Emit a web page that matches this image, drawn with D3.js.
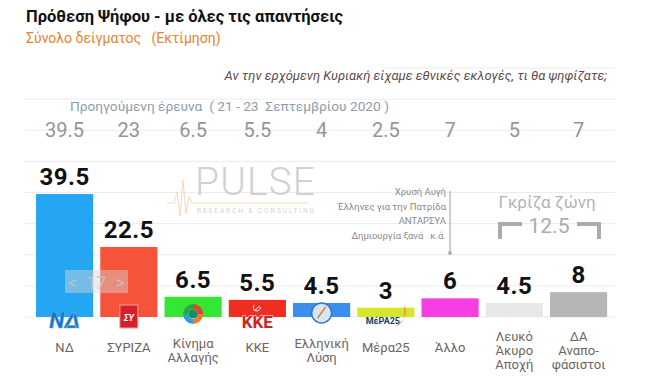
<!DOCTYPE html>
<html>
<head>
<meta charset="utf-8">
<script src="https://cdn.jsdelivr.net/npm/d3@7"></script>
<style>
  body { margin: 0; background: #fff; }
  svg { display: block; font-family: Roboto, "Noto Sans", sans-serif; }
</style>
</head>
<body>
<svg width="650" height="377"></svg>
<script>
// data
var categories = ["ΝΔ", "ΣΥΡΙΖΑ", "Κίνημα Αλλαγής", "ΚΚΕ", "Ελληνική Λύση", "Μέρα25", "Άλλο", "Λευκό Άκυρο Αποχή", "ΔΑ Αναποφάσιστοι"];
var labelLines = [["ΝΔ"], ["ΣΥΡΙΖΑ"], ["Κίνημα", "Αλλαγής"], ["ΚΚΕ"], ["Ελληνική", "Λύση"], ["Μέρα25"], ["Άλλο"], ["Λευκό", "Άκυρο", "Αποχή"], ["ΔΑ", "Αναπο-", "φάσιστοι"]];
var current = [39.5, 22.5, 6.5, 5.5, 4.5, 3, 6, 4.5, 8];
var previous = ["39.5", "23", "6.5", "5.5", "4", "2.5", "7", "5", "7"];
var colors = ["#25a6f2", "#f5533a", "#35e635", "#ef2d22", "#3b8ef0", "#d6e62c", "#f53fe2", "#e8e8e8", "#b6b6b6"];
var others = ["Χρυσή Αυγή", "Έλληνες για την Πατρίδα", "ΑΝΤΑΡΣΥΑ", "Δημιουργία ξανά   κ.ά."];
var greyZone = "12.5";
var gridTicks = [0, 10, 20, 30, 40, 50, 60, 70, 80];

var svg = d3.select("svg");

var x = d3.scaleBand()
    .domain(categories)
    .range([32.5, 610.7])
    .paddingInner(0.11)
    .paddingOuter(0.055);

var y = d3.scaleLinear()
    .domain([0, 80])
    .range([317, 68]);

// gridlines
svg.append("g").selectAll("line")
  .data(gridTicks)
  .enter().append("line")
    .attr("x1", function(d) { return d == 80 ? 385 : 25; })
    .attr("x2", 615)
    .attr("y1", function(d) { return y(d); })
    .attr("y2", function(d) { return y(d); })
    .style("stroke", "#ececec")
    .style("stroke-width", 1);

// header
svg.append("text")
    .attr("x", 26).attr("y", 22)
    .style("font-size", "16.5px").style("font-weight", "bold").style("fill", "#111")
    .text("Πρόθεση Ψήφου - με όλες τις απαντήσεις");

svg.append("text")
    .attr("x", 26).attr("y", 43)
    .style("font-size", "14px").style("fill", "#e8832c")
    .attr("xml:space", "preserve")
    .text("Σύνολο δείγματος   (Εκτίμηση)");

svg.append("text")
    .attr("x", 607).attr("y", 80)
    .attr("text-anchor", "end")
    .style("font-size", "13px").style("font-style", "italic").style("fill", "#5d4c4c")
    .text("Αν την ερχόμενη Κυριακή είχαμε εθνικές εκλογές, τι θα ψηφίζατε;");

svg.append("text")
    .attr("x", 70).attr("y", 111)
    .style("font-size", "13.7px").style("fill", "#8d9dac")
    .attr("xml:space", "preserve")
    .text("Προηγούμενη έρευνα  ( 21 - 23  Σεπτεμβρίου 2020 )");

svg.append("g").selectAll("text")
  .data(previous)
  .enter().append("text")
    .attr("x", function(d, i) { return x(categories[i]) + x.bandwidth() / 2; })
    .attr("y", 137)
    .attr("text-anchor", "middle")
    .style("font-size", "20px").style("fill", "#8f969d")
    .text(function(d) { return d; });

// watermark
var wm = svg.append("g").style("opacity", 0.9);
wm.append("path")
    .attr("d", "M167,203 L174,203 L177,192 L180,216 L183,180 L186,214 L189,196 L192,203 L308,203")
    .style("fill", "none").style("stroke", "#f6d6b0").style("stroke-width", 1);
wm.append("text")
    .attr("x", 195).attr("y", 195)
    .attr("textLength", 120).attr("lengthAdjust", "spacing")
    .style("font-size", "39px").style("font-weight", 300).style("fill", "#cdcdcd")
    .text("PULSE");
wm.append("text")
    .attr("x", 197).attr("y", 213)
    .attr("textLength", 117).attr("lengthAdjust", "spacing")
    .style("font-size", "6.5px").style("fill", "#cfcfcf")
    .text("RESEARCH & CONSULTING");

// bars
svg.append("g").selectAll("rect")
  .data(current)
  .enter().append("rect")
    .attr("x", function(d, i) { return x(categories[i]); })
    .attr("y", function(d) { return y(d); })
    .attr("width", x.bandwidth())
    .attr("height", function(d) { return y(0) - y(d); })
    .style("fill", function(d, i) { return colors[i]; });

svg.append("g").selectAll("text")
  .data(current)
  .enter().append("text")
    .attr("x", function(d, i) { return x(categories[i]) + x.bandwidth() / 2; })
    .attr("y", function(d) { return y(d) - 9; })
    .attr("text-anchor", "middle")
    .style("font-size", "24px").style("font-weight", "bold").style("fill", "#111")
    .style("letter-spacing", "0.5px")
    .text(function(d) { return d; });

// party logos (rough)
function cx(i) { return x(categories[i]) + x.bandwidth() / 2; }
var logos = svg.append("g");

logos.append("text")
    .attr("x", cx(0)).attr("y", 328)
    .attr("text-anchor", "middle")
    .style("font-size", "22px").style("font-weight", "bold").style("font-style", "italic")
    .style("fill", "#1f6cc0").style("stroke", "#5fb8f0").style("stroke-width", 0.6)
    .text("ΝΔ");

logos.append("rect")
    .attr("x", cx(1) - 9).attr("y", 305).attr("width", 18).attr("height", 23)
    .style("fill", "#d3202a").style("stroke", "#f7a0a0").style("stroke-width", 1);
logos.append("text")
    .attr("x", cx(1)).attr("y", 321)
    .attr("text-anchor", "middle")
    .style("font-size", "9px").style("font-weight", "bold").style("font-style", "italic").style("fill", "#fff")
    .text("ΣΥ");

var pie = d3.pie().sort(null)([1, 1, 1, 1]);
var arcK = d3.arc().innerRadius(5).outerRadius(10);
logos.append("g")
    .attr("transform", "translate(" + cx(2) + ",314)")
  .selectAll("path")
  .data(pie)
  .enter().append("path")
    .attr("d", arcK)
    .style("fill", function(d, i) { return ["#e8412b", "#f07a2c", "#2e9bd6", "#23a84a"][i]; });
logos.append("circle")
    .attr("cx", cx(2)).attr("cy", 314).attr("r", 4.5)
    .style("fill", "#1c8a6a");

logos.append("text")
    .attr("x", cx(3)).attr("y", 328)
    .attr("text-anchor", "middle")
    .style("font-size", "17px").style("font-weight", "bold")
    .style("fill", "#d8201b").style("stroke", "#fff").style("stroke-width", 0.8)
    .style("paint-order", "stroke")
    .text("KKE");
// hammer & sickle, drawn as a tiny mark
logos.append("path")
    .attr("d", "M" + (cx(3) - 3) + ",305 A3.5,3.5 0 1 0 " + (cx(3) + 3) + ",307 M" + (cx(3) - 3) + ",311 L" + (cx(3) + 2) + ",306")
    .style("fill", "none").style("stroke", "#fff").style("stroke-width", 1);

logos.append("circle")
    .attr("cx", cx(4)).attr("cy", 313).attr("r", 10)
    .style("fill", "#d5e6f2").style("stroke", "#3a78b5").style("stroke-width", 1.5);
logos.append("line")
    .attr("x1", cx(4) - 4).attr("y1", 318).attr("x2", cx(4) + 4).attr("y2", 307)
    .style("stroke", "#e08030").style("stroke-width", 1.5);

logos.append("text")
    .attr("x", cx(5) - 3).attr("y", 324)
    .attr("text-anchor", "middle")
    .style("font-size", "9px").style("font-weight", "bold").style("fill", "#243a6a")
    .text("ΜέΡΑ25");
logos.append("path")
    .attr("d", "M" + (cx(5) + 9) + ",327 Q" + (cx(5) + 21) + ",322 " + (cx(5) + 18) + ",305 Q" + (cx(5) + 24) + ",316 " + (cx(5) + 9) + ",327 Z")
    .style("fill", "#f07a2a");

// category labels
var lab = svg.append("g").selectAll("text")
  .data(labelLines)
  .enter().append("text")
    .attr("text-anchor", "middle")
    .style("font-size", "13px").style("fill", "#6e6464");
lab.each(function(lines, i) {
  var t0 = lines.length == 1 ? 352 : (lines.length == 2 ? 348 : 341);
  d3.select(this).selectAll("tspan")
    .data(lines)
    .enter().append("tspan")
      .attr("x", cx(i))
      .attr("y", function(d, j) { return t0 + j * 14; })
      .text(function(d) { return d; });
});

// others annotation
svg.append("g").selectAll("text")
  .data(others)
  .enter().append("text")
    .attr("x", 446)
    .attr("y", function(d, i) { return 195 + i * 14.7; })
    .attr("text-anchor", "end")
    .attr("xml:space", "preserve")
    .style("font-size", "9.5px").style("fill", "#8a8a8a")
    .text(function(d) { return d; });
svg.append("line")
    .attr("x1", 450).attr("x2", 450).attr("y1", 191).attr("y2", 253)
    .style("stroke", "#b0b0b0").style("stroke-width", 1.2);
svg.append("circle")
    .attr("cx", 450).attr("cy", 253).attr("r", 2)
    .style("fill", "#b0b0b0");

// grey zone
svg.append("text")
    .attr("x", 547).attr("y", 208)
    .attr("text-anchor", "middle")
    .style("font-size", "17px").style("fill", "#b3b3b3")
    .text("Γκρίζα ζώνη");
svg.append("text")
    .attr("x", 549).attr("y", 233)
    .attr("text-anchor", "middle")
    .style("font-size", "21px").style("fill", "#ababab")
    .text(greyZone);
svg.append("path")
    .attr("d", "M500,239 L500,224 L522,224 M577,224 L599,224 L599,239")
    .style("fill", "none").style("stroke", "#ababab").style("stroke-width", 4);

// page overlay
svg.append("rect")
    .attr("x", 65).attr("y", 270).attr("width", 63).attr("height", 23)
    .style("fill", "#d8d8d8").style("opacity", 0.45);
svg.append("text")
    .attr("x", 96.5).attr("y", 289)
    .attr("text-anchor", "middle")
    .attr("xml:space", "preserve")
    .style("font-size", "18px").style("fill", "#c4c4c4").style("opacity", 0.85)
    .text("<  17  >");
</script>
</body>
</html>
